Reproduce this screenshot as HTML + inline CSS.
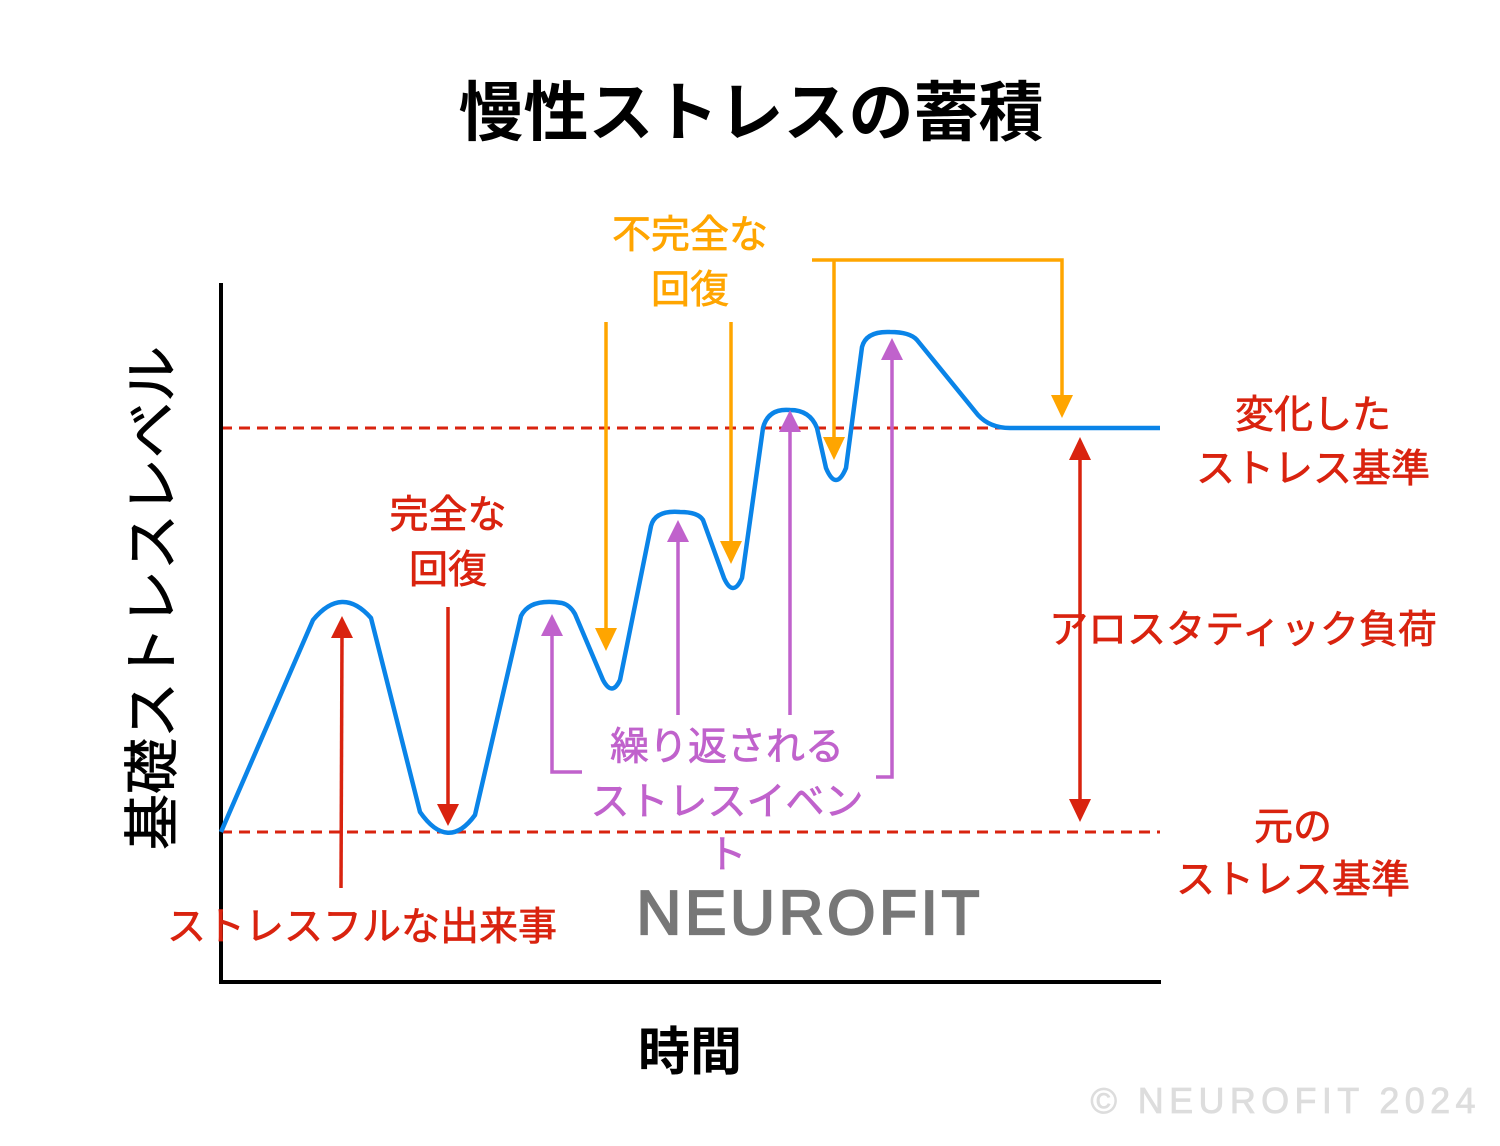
<!DOCTYPE html>
<html><head><meta charset="utf-8"><style>html,body{margin:0;padding:0;background:#fff}svg{display:block}</style></head>
<body>
<svg width="1500" height="1146" viewBox="0 0 1500 1146" xmlns="http://www.w3.org/2000/svg" font-family="Liberation Sans, Noto Sans CJK JP, sans-serif">
<rect width="1500" height="1146" fill="#fff"/>
<text x="751" y="135" font-size="65" font-weight="bold" text-anchor="middle" fill="#000">慢性ストレスの蓄積</text>
<text transform="translate(172,598) rotate(-90)" font-size="56" text-anchor="middle" fill="#000" stroke="#000" stroke-width="0.8">基礎ストレスレベル</text>
<text x="690" y="1070" font-size="52" font-weight="bold" text-anchor="middle" fill="#000">時間</text>
<text x="808" y="934" font-size="62" text-anchor="middle" fill="#777" stroke="#777" stroke-width="2.2" textLength="343" lengthAdjust="spacing">NEUROFIT</text>
<text x="1283" y="1113" font-size="36" text-anchor="middle" fill="#ddd" stroke="#ddd" stroke-width="0.8" textLength="385" lengthAdjust="spacing">© NEUROFIT 2024</text>

<line x1="221" y1="832" x2="1160" y2="832" stroke="#d9230f" stroke-width="3" stroke-dasharray="11,7"/>
<line x1="221" y1="428" x2="1160" y2="428" stroke="#d9230f" stroke-width="3" stroke-dasharray="11,7"/>

<line x1="221" y1="283" x2="221" y2="984" stroke="#000" stroke-width="4"/>
<line x1="219" y1="982" x2="1161" y2="982" stroke="#000" stroke-width="4"/>

<path d="M221,832 L313,620 Q342,585 371,618 L420,812 Q448,852 475,815 L521,616 Q530,598 562,603 Q570,605 575,614 L603,680 Q612,697 620,680 L651,526 Q655,510 680,512 Q698,512 703,520 L724,578 Q733,598 742,578 L763,428 Q768,408 790,410 Q810,410 817,428 L826,468 Q836,492 846,468 L862,347 Q866,331 890,332 Q910,332 917,340 L978,415 Q990,428 1010,428 L1160,428" fill="none" stroke="#0a84e8" stroke-width="4.5" stroke-linejoin="round"/>

<line x1="341" y1="888" x2="342" y2="635" stroke="#d9230f" stroke-width="3.5"/>
<polygon points="342,616 331,638 353,638" fill="#d9230f"/>
<line x1="448" y1="607" x2="448" y2="808" stroke="#d9230f" stroke-width="3.5"/>
<polygon points="448,826 437,804 459,804" fill="#d9230f"/>
<line x1="1080" y1="455" x2="1080" y2="805" stroke="#d9230f" stroke-width="3.5"/>
<polygon points="1080,437 1069,460 1091,460" fill="#d9230f"/>
<polygon points="1080,822 1069,799 1091,799" fill="#d9230f"/>

<line x1="606" y1="322" x2="606" y2="632" stroke="#ffa500" stroke-width="3.5"/>
<polygon points="606,651 595,628 617,628" fill="#ffa500"/>
<line x1="731" y1="322" x2="731" y2="545" stroke="#ffa500" stroke-width="3.5"/>
<polygon points="731,564 720,541 742,541" fill="#ffa500"/>
<polyline points="812,260 1062,260 1062,400" fill="none" stroke="#ffa500" stroke-width="3.5"/>
<line x1="834" y1="260" x2="834" y2="442" stroke="#ffa500" stroke-width="3.5"/>
<polygon points="834,460 823,437 845,437" fill="#ffa500"/>
<polygon points="1062,418 1051,395 1073,395" fill="#ffa500"/>

<polyline points="552,632 552,772 582,772" fill="none" stroke="#c062cc" stroke-width="3.5"/>
<polygon points="552,614 541,636 563,636" fill="#c062cc"/>
<line x1="678" y1="715" x2="678" y2="538" stroke="#c062cc" stroke-width="3.5"/>
<polygon points="678,520 667,542 689,542" fill="#c062cc"/>
<line x1="790" y1="715" x2="790" y2="428" stroke="#c062cc" stroke-width="3.5"/>
<polygon points="790,410 779,432 801,432" fill="#c062cc"/>
<polyline points="876,777 892,777 892,356" fill="none" stroke="#c062cc" stroke-width="3.5"/>
<polygon points="892,338 881,360 903,360" fill="#c062cc"/>

<g font-size="39" text-anchor="middle" stroke-width="0.7">
<text x="690" y="248" fill="#ffa500" stroke="#ffa500">不完全な</text>
<text x="690" y="303" fill="#ffa500" stroke="#ffa500">回復</text>
<text x="448" y="528" fill="#d9230f" stroke="#d9230f">完全な</text>
<text x="448" y="583" fill="#d9230f" stroke="#d9230f">回復</text>
<text x="727" y="760" fill="#c062cc" stroke="#c062cc">繰り返される</text>
<text x="727" y="815" fill="#c062cc" stroke="#c062cc">ストレスイベン</text>
<text x="727" y="868" fill="#c062cc" stroke="#c062cc">ト</text>
<text x="362" y="940" fill="#d9230f" stroke="#d9230f">ストレスフルな出来事</text>
<text x="1313" y="428" fill="#d9230f" stroke="#d9230f">変化した</text>
<text x="1313" y="482" fill="#d9230f" stroke="#d9230f">ストレス基準</text>
<text x="1243" y="643" fill="#d9230f" stroke="#d9230f">アロスタティック負荷</text>
<text x="1293" y="840" fill="#d9230f" stroke="#d9230f">元の</text>
<text x="1293" y="893" fill="#d9230f" stroke="#d9230f">ストレス基準</text>
</g>
</svg>
</body></html>
